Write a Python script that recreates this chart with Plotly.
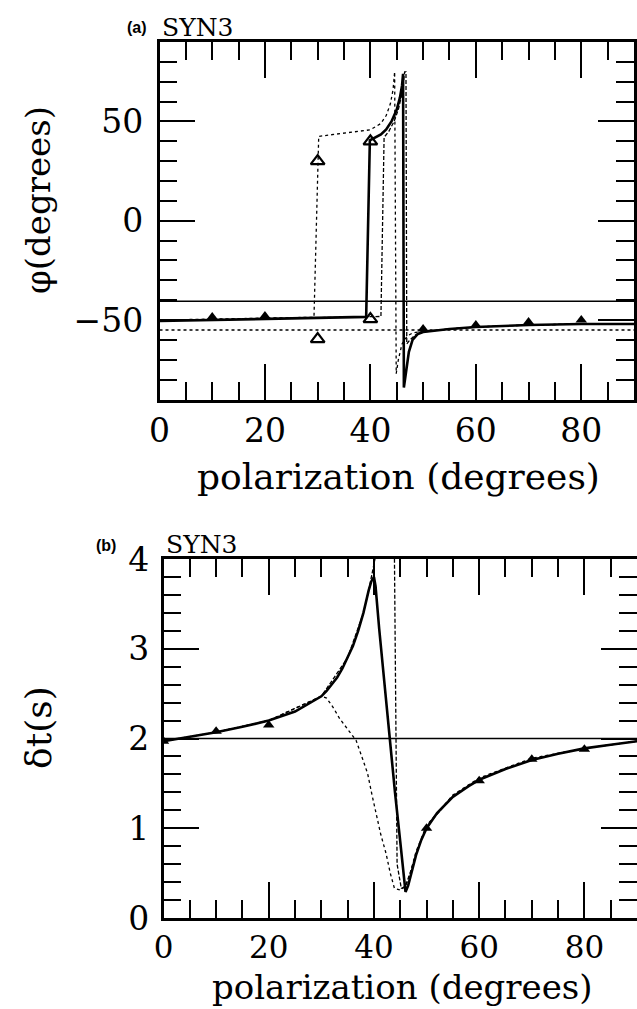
import plotly.graph_objects as go

# ---------------- data: panel (a) phi vs polarization ----------------
phi_solid_x = [0, 10, 20, 30, 35, 39.2, 39.9, 41, 42, 43, 44, 45, 45.6, 46.0, 46.2, 46.35, 46.8, 47.3, 48.0, 49.0, 50, 55, 60, 70, 80, 90]
phi_solid_y = [-50.5, -50, -49.5, -49, -48.8, -48.4, 40.5, 42, 43.5, 46, 50, 56, 62, 68, 74, -84, -76, -66, -60, -57, -56, -54.5, -53.5, -52.5, -52, -52]

phi_dotted_x = [0, 10, 20, 29.3, 30.2, 35, 40, 42, 43, 43.8, 44.3, 44.6, 44.9, 45.3, 46, 47, 48, 50, 55, 60, 70, 80, 90]
phi_dotted_y = [-50, -49.5, -49, -48.6, 42.5, 44, 45.8, 49, 53, 59, 66, 75, -77, -70, -62, -58, -56.5, -55.5, -54.5, -53.5, -52.5, -52, -52]

phi_dashed_x = [0, 10, 20, 30, 40, 42.0, 42.6, 43.5, 44.5, 45.3, 46.0, 46.5, 46.75, 46.9, 47.5, 48.5, 50, 55, 60, 70, 80, 90]
phi_dashed_y = [-50.3, -49.8, -49.3, -48.8, -48.4, -48.2, 42, 45, 50, 56, 64, 75, 75, -62, -60, -57.5, -56, -54.5, -53.5, -52.5, -52, -52]

phi_ref_solid = -40.5
phi_ref_dotted = -55.0

phi_tri_x = [10, 20, 50, 60, 70, 80]
phi_tri_y = [-48.5, -48, -54.5, -52.5, -51, -50]
phi_open_x = [30, 40, 40, 30]
phi_open_y = [30, 40, -49.5, -59.6]

# ---------------- data: panel (b) delay time vs polarization ----------------
dt_solid_x = [0, 5, 10, 15, 20, 25, 28, 30, 31, 32, 33, 34, 35, 36, 37, 38, 39, 39.5, 40.0, 40.3, 41, 42, 43, 44, 45, 46, 46.5, 47, 48, 49, 50, 52, 55, 58, 60, 65, 70, 75, 80, 85, 90]
dt_solid_y = [1.97, 2.02, 2.07, 2.13, 2.2, 2.3, 2.4, 2.47, 2.53, 2.6, 2.68, 2.78, 2.9, 3.03, 3.2, 3.4, 3.65, 3.75, 3.8, 3.7, 3.22, 2.6, 1.95, 1.4, 0.85, 0.29, 0.36, 0.47, 0.7, 0.87, 1.0, 1.17, 1.35, 1.47, 1.54, 1.66, 1.76, 1.83, 1.89, 1.93, 1.97]

dt_dashed_x = [0, 10, 20, 30, 35, 38, 39, 39.5, 40.2, 40.8, 43.8, 43.9, 44.4, 45.2, 46.0, 47, 48, 50, 55, 60, 70, 80, 90]
dt_dashed_y = [1.97, 2.07, 2.2, 2.47, 2.9, 3.4, 3.65, 3.8, 4.0, 4.4, 4.4, 4.0, 0.6, 0.33, 0.35, 0.52, 0.72, 1.02, 1.36, 1.55, 1.77, 1.89, 1.97]

dt_dotted_x = [0, 10, 20, 30, 31, 32.2, 33.5, 35, 36.6, 37.8, 38.8, 39.6, 40.4, 41.3, 42.3, 43.1, 43.9, 45.1, 46, 47, 48, 50, 55, 60, 70, 80, 90]
dt_dotted_y = [1.97, 2.07, 2.2, 2.47, 2.45, 2.35, 2.22, 2.1, 1.98, 1.78, 1.61, 1.38, 1.16, 0.93, 0.72, 0.5, 0.33, 0.31, 0.36, 0.52, 0.74, 1.03, 1.37, 1.56, 1.78, 1.89, 1.97]

dt_ref = 2.0

dt_tri_x = [0, 10, 20, 50, 60, 70, 80]
dt_tri_y = [1.97, 2.08, 2.15, 1.0, 1.53, 1.77, 1.88]

x_ticks = [0, 20, 40, 60, 80]
phi_ticks = [-50, 0, 50]
dt_ticks = [0, 1, 2, 3, 4]

# ---------------- figure ----------------
W, H = 637, 1009
fig = go.Figure()

thin = 1.3
def add_curves(xa, ya, solid, dotted, dashed, solid_w):
    fig.add_trace(go.Scatter(x=dotted[0], y=dotted[1], mode="lines", xaxis=xa, yaxis=ya,
                             line=dict(color="black", width=thin, dash="dot"), hoverinfo="skip"))
    fig.add_trace(go.Scatter(x=dashed[0], y=dashed[1], mode="lines", xaxis=xa, yaxis=ya,
                             line=dict(color="black", width=thin, dash="4px,2px"), hoverinfo="skip"))
    fig.add_trace(go.Scatter(x=solid[0], y=solid[1], mode="lines", xaxis=xa, yaxis=ya,
                             line=dict(color="black", width=solid_w), hoverinfo="skip"))

add_curves("x", "y", (phi_solid_x, phi_solid_y), (phi_dotted_x, phi_dotted_y), (phi_dashed_x, phi_dashed_y), 2.6)
fig.add_trace(go.Scatter(x=[0, 90], y=[phi_ref_solid] * 2, mode="lines", line=dict(color="black", width=1.6)))
fig.add_trace(go.Scatter(x=[0, 90], y=[phi_ref_dotted] * 2, mode="lines", line=dict(color="black", width=1.4, dash="dot")))
fig.add_trace(go.Scatter(x=phi_tri_x, y=phi_tri_y, mode="markers",
                         marker=dict(symbol="triangle-up", size=10, color="black")))
fig.add_trace(go.Scatter(x=phi_open_x, y=phi_open_y, mode="markers",
                         marker=dict(symbol="triangle-up-open", size=12, color="black", line=dict(width=2.2))))

add_curves("x2", "y2", (dt_solid_x, dt_solid_y), (dt_dotted_x, dt_dotted_y), (dt_dashed_x, dt_dashed_y), 2.6)
fig.add_trace(go.Scatter(x=[0, 90], y=[dt_ref] * 2, mode="lines", xaxis="x2", yaxis="y2",
                         line=dict(color="black", width=1.6)))
fig.add_trace(go.Scatter(x=dt_tri_x, y=dt_tri_y, mode="markers", xaxis="x2", yaxis="y2",
                         marker=dict(symbol="triangle-up", size=10, color="black")))

tickfont = dict(family="DejaVu Serif", size=33, color="black")
common = dict(showline=True, linecolor="black", linewidth=2.5, mirror="allticks",
              ticks="inside", tickcolor="black", tickwidth=2, ticklen=36,
              showgrid=False, zeroline=False, tickfont=tickfont, automargin=False)

def px_x(p):
    return p / W
def px_y(p):
    return 1 - p / H

fig.update_layout(
    template="none",
    width=W, height=H, margin=dict(l=0, r=0, t=0, b=0, pad=0),
    paper_bgcolor="white", plot_bgcolor="white", showlegend=False,
    xaxis=dict(domain=[px_x(159.5), px_x(634)], range=[0, 90], anchor="y",
               tickvals=x_ticks, ticklabelstandoff=0,
               minor=dict(dtick=5, ticks="inside", ticklen=18, tickwidth=2, tickcolor="black", showgrid=False),
               **common),
    yaxis=dict(domain=[px_y(399.5), px_y(42)], range=[-90, 90], anchor="x",
               tickvals=phi_ticks, ticklabelstandoff=7,
               minor=dict(dtick=10, ticks="inside", ticklen=18, tickwidth=2, tickcolor="black", showgrid=False),
               **common),
    yaxis2=dict(domain=[px_y(918), px_y(559)], range=[0, 4], anchor="x2",
                tickvals=dt_ticks, ticklabelstandoff=5,
                minor=dict(dtick=0.2, ticks="inside", ticklen=18, tickwidth=2, tickcolor="black", showgrid=False),
                **common),
)
common2 = dict(common)
common2["tickfont"] = dict(family="DejaVu Serif", size=31, color="black")
fig.update_layout(
    xaxis2=dict(domain=[px_x(163.5), 1.0], range=[0, 90], anchor="y2",
                tickvals=x_ticks, ticklabelstandoff=0,
                minor=dict(dtick=5, ticks="inside", ticklen=18, tickwidth=2, tickcolor="black", showgrid=False),
                **common2),
)

serif = "DejaVu Serif"
ann = [
    dict(text="<b>(a)</b>", x=px_x(137), y=px_y(27), font=dict(family="Liberation Sans", size=16)),
    dict(text="SYN3", x=px_x(197), y=px_y(27), font=dict(family=serif, size=25)),
    dict(text="<b>(b)</b>", x=px_x(106), y=px_y(545), font=dict(family="Liberation Sans", size=16)),
    dict(text="SYN3", x=px_x(201), y=px_y(544), font=dict(family=serif, size=25)),
    dict(text="polarization (degrees)", x=px_x(398), y=px_y(476), font=dict(family=serif, size=36)),
    dict(text="polarization (degrees)", x=px_x(402), y=px_y(987), font=dict(family=serif, size=34)),
    dict(text="φ(degrees)", x=px_x(38), y=px_y(200), textangle=-90, font=dict(family=serif, size=34)),
    dict(text="δt(s)", x=px_x(38), y=px_y(728), textangle=-90, font=dict(family=serif, size=36)),
]
for a in ann:
    a.update(xref="paper", yref="paper", showarrow=False, xanchor="center", yanchor="middle")
    a["font"]["color"] = "black"
fig.update_layout(annotations=ann)

fig.write_html("out.html")
